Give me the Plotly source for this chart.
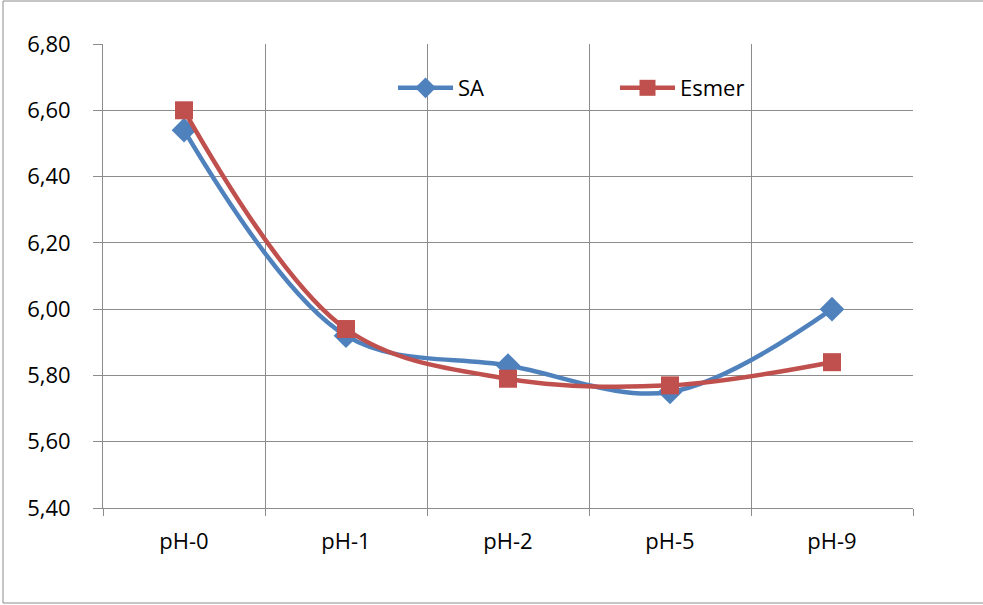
import plotly.graph_objects as go

categories = ["pH-0", "pH-1", "pH-2", "pH-5", "pH-9"]
sa_values = [6.54, 5.92, 5.83, 5.75, 6.00]
esmer_values = [6.60, 5.94, 5.79, 5.77, 5.84]
y_ticks = [5.40, 5.60, 5.80, 6.00, 6.20, 6.40, 6.60, 6.80]

W, H = 983, 605
L, R, T, B = 103, 70, 44, 97
pw, ph = W - L - R, H - T - B

grid = "#8c8c8c"
font = "Open Sans"

fig = go.Figure()
fig.add_trace(go.Scatter(
    x=categories, y=sa_values, name="SA", mode="lines+markers",
    line=dict(color="#4F81BD", width=4.5, shape="spline", smoothing=1),
    marker=dict(symbol="diamond", size=19, color="#4F81BD"),
))
fig.add_trace(go.Scatter(
    x=categories, y=esmer_values, name="Esmer", mode="lines+markers",
    line=dict(color="#C0504D", width=4.5, shape="spline", smoothing=1),
    marker=dict(symbol="square", size=18, color="#C0504D"),
))

fig.update_layout(
    width=W, height=H, autosize=False,
    margin=dict(l=L, r=R, t=T, b=B),
    paper_bgcolor="white", plot_bgcolor="white",
    separators=",.",
    font=dict(family=font, size=22, color="black"),
    showlegend=True,
    legend=dict(
        orientation="h", x=(393 - L) / pw, xanchor="left",
        y=(H - B - 88) / ph, yanchor="middle",
        entrywidth=152, entrywidthmode="pixels",
        bgcolor="rgba(0,0,0,0)", font=dict(size=22),
        itemwidth=55, tracegroupgap=0,
    ),
    xaxis=dict(
        type="category", tickson="boundaries", range=[-0.5, 4.5],
        showgrid=True, gridcolor=grid, gridwidth=1,
        showline=True, linecolor=grid, linewidth=1,
        ticks="outside", ticklen=7, tickcolor=grid,
        ticklabelstandoff=14, zeroline=False,
        tickfont=dict(size=22),
    ),
    yaxis=dict(
        range=[5.4, 6.8], tickvals=y_ticks, tickformat=".2f",
        showgrid=True, gridcolor=grid, gridwidth=1,
        showline=True, linecolor=grid, linewidth=1,
        ticks="outside", ticklen=9, tickcolor=grid,
        ticklabelstandoff=18, zeroline=False,
        tickfont=dict(size=22),
    ),
    shapes=[dict(
        type="rect", xref="paper", yref="paper",
        x0=(3 - L) / pw, x1=(995 - L) / pw,
        y0=(H - B - 603) / ph, y1=(H - B - 1) / ph,
        line=dict(color="#8c8c8c", width=1), layer="below",
    )],
)

fig.write_html("out.html", config={"responsive": False})
